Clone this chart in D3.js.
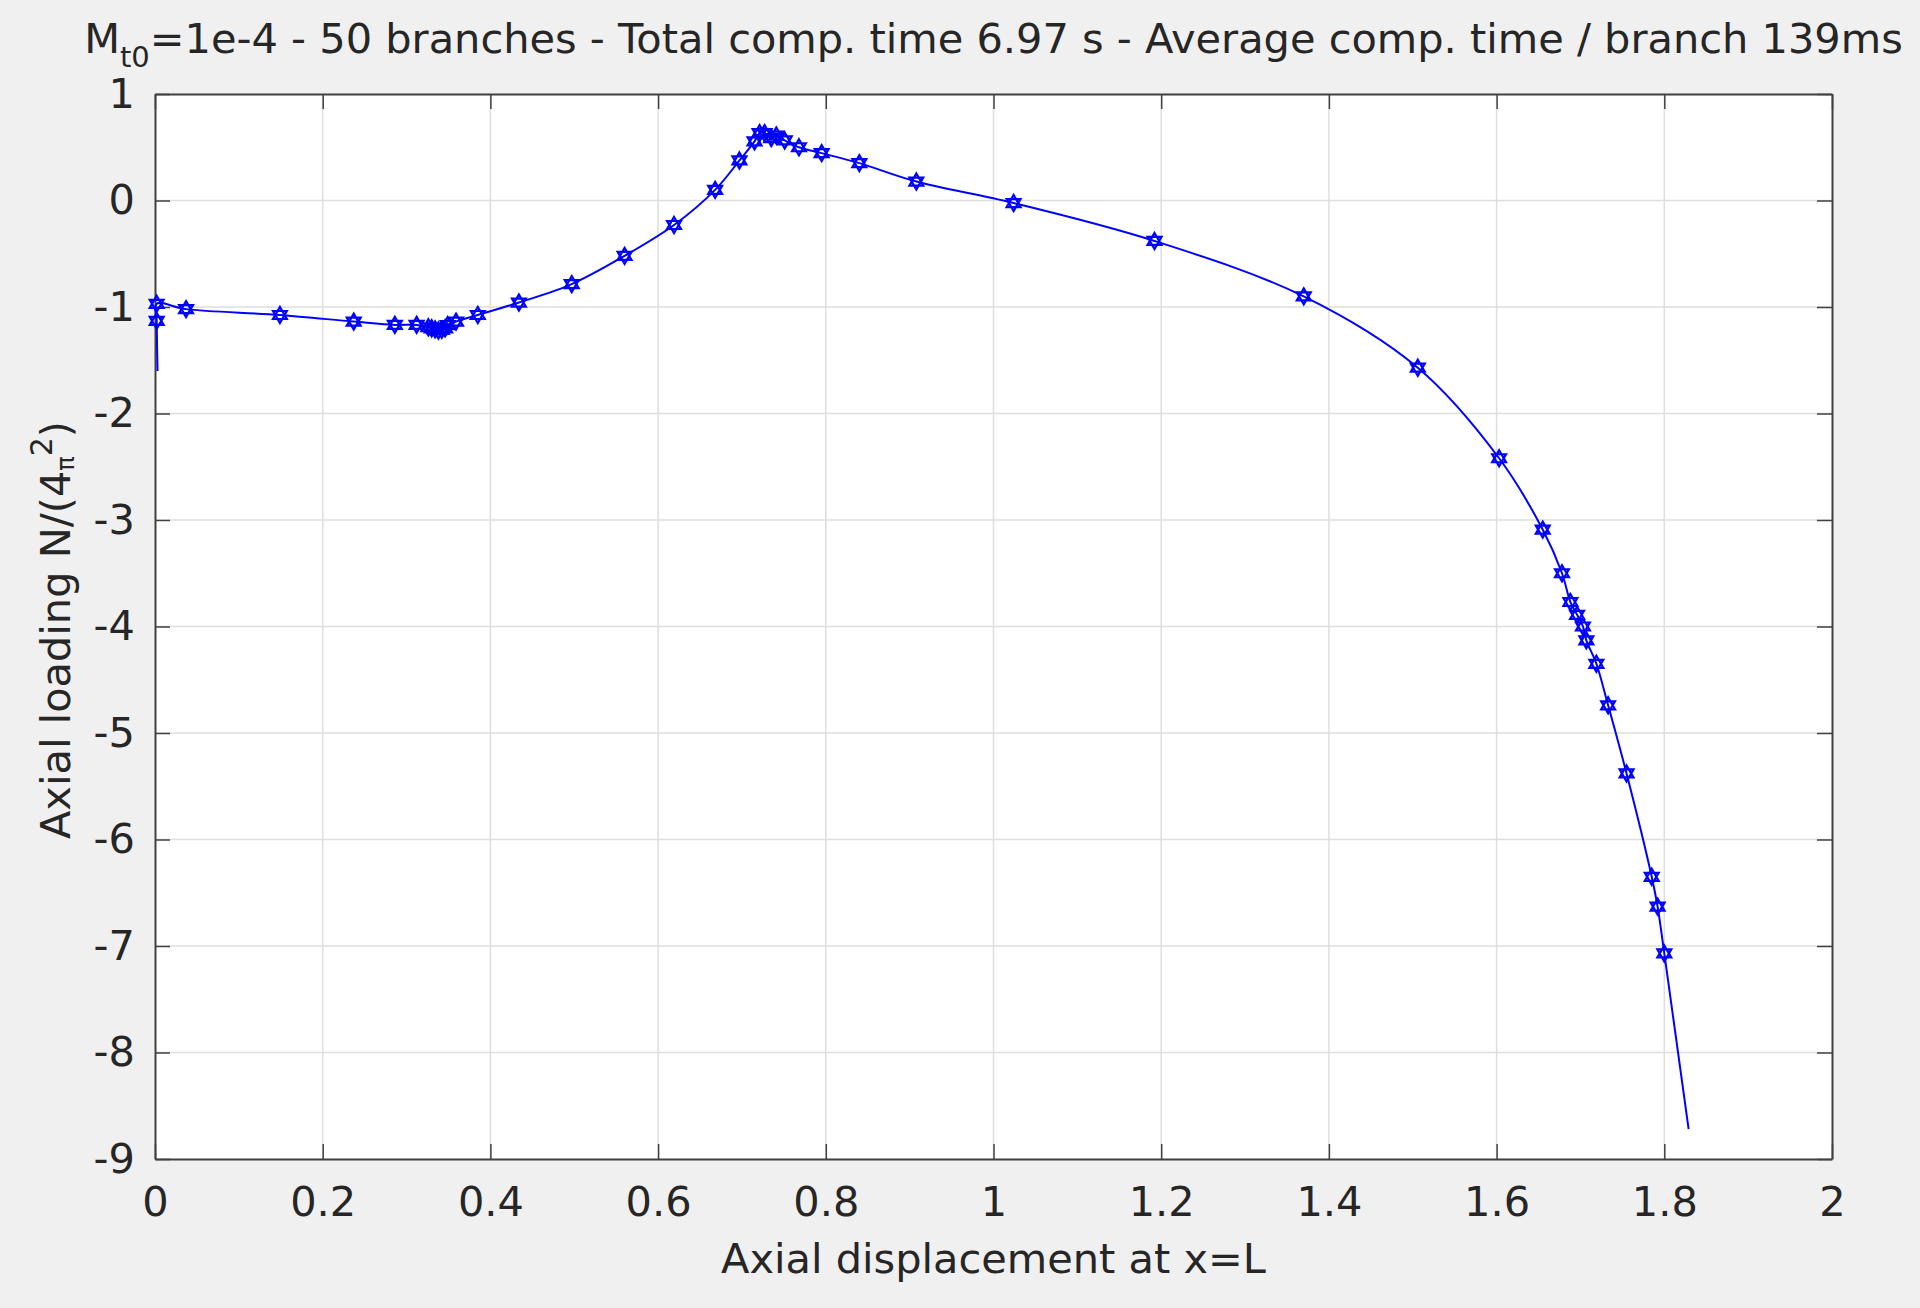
<!DOCTYPE html>
<html>
<head>
<meta charset="utf-8">
<script src="https://cdn.jsdelivr.net/npm/d3@7"></script>
<style>
  html, body { margin: 0; padding: 0; background: #f0f0f0; }
  svg { display: block; }
  text { font-family: "DejaVu Sans", sans-serif; fill: #262626; }
</style>
</head>
<body>
<script>
// ---- data ----
const xTicks = [0, 0.2, 0.4, 0.6, 0.8, 1, 1.2, 1.4, 1.6, 1.8, 2];
const yTicks = [1, 0, -1, -2, -3, -4, -5, -6, -7, -8, -9];
const xTickLabels = ["0", "0.2", "0.4", "0.6", "0.8", "1", "1.2", "1.4", "1.6", "1.8", "2"];
const yTickLabels = ["1", "0", "-1", "-2", "-3", "-4", "-5", "-6", "-7", "-8", "-9"];

// branch points (markers), in path order
const markerX = [0.002, 0.002, 0.037, 0.149, 0.237, 0.286, 0.312,
  0.326, 0.330, 0.334, 0.338, 0.342, 0.346, 0.349, 0.359, 0.385,
  0.434, 0.497, 0.560, 0.619, 0.668, 0.697,
  0.715, 0.721, 0.727, 0.735, 0.741, 0.751,
  0.768, 0.795, 0.840, 0.908,
  1.024, 1.192, 1.370,
  1.506, 1.603, 1.655, 1.678, 1.688, 1.696, 1.703, 1.707, 1.719, 1.733, 1.755, 1.785, 1.792, 1.800];
const markerY = [-1.13, -0.97, -1.02, -1.075, -1.137, -1.168, -1.168,
  -1.19, -1.20, -1.21, -1.22, -1.215, -1.20, -1.17, -1.137, -1.075,
  -0.958, -0.785, -0.52, -0.23, 0.10, 0.376,
  0.555, 0.633, 0.633, 0.586, 0.61, 0.564,
  0.50, 0.445, 0.351, 0.178,
  -0.024, -0.38, -0.90,
  -1.57, -2.42, -3.09, -3.50, -3.77, -3.89, -4.00, -4.13, -4.35, -4.74, -5.38, -6.35, -6.63, -7.07];
// continuation curve endpoints (no marker)
const startX = [0.003], startY = [-1.60];
const endX = [1.829], endY = [-8.72];

// ---- layout ----
const W = 1920, H = 1308;
const L = 155, R = 1832, T = 94, B = 1159;
const FS = 41.5;

const svg = d3.select("body").append("svg").attr("width", W).attr("height", H);
svg.append("rect").attr("width", W).attr("height", H).attr("fill", "#f0f0f0");

const x = d3.scaleLinear().domain([0, 2]).range([L, R]);
const y = d3.scaleLinear().domain([-9, 1]).range([B, T]);

svg.append("rect").attr("x", L).attr("y", T).attr("width", R - L).attr("height", B - T).attr("fill", "#fff");

// grid
const g = svg.append("g");
g.selectAll(".gx").data(xTicks.slice(1, -1)).join("line")
  .attr("x1", d => x(d)).attr("x2", d => x(d)).attr("y1", T).attr("y2", B)
  .attr("stroke", "#dedede").attr("stroke-width", 1.5);
g.selectAll(".gy").data(yTicks.slice(1, -1)).join("line")
  .attr("y1", d => y(d)).attr("y2", d => y(d)).attr("x1", L).attr("x2", R)
  .attr("stroke", "#dedede").attr("stroke-width", 1.5);

// axes (ticks inward, box)
const tickLen = 15;
const axB = d3.axisBottom(x).tickValues(xTicks).tickFormat((d, i) => xTickLabels[i]).tickSizeInner(-tickLen).tickSizeOuter(0).tickPadding(28);
const axT = d3.axisTop(x).tickValues(xTicks).tickFormat("").tickSizeInner(-tickLen).tickSizeOuter(0);
const axL = d3.axisLeft(y).tickValues(yTicks).tickFormat((d, i) => yTickLabels[i]).tickSizeInner(-tickLen).tickSizeOuter(0).tickPadding(20);
const axR = d3.axisRight(y).tickValues(yTicks).tickFormat("").tickSizeInner(-tickLen).tickSizeOuter(0);

function style(sel) {
  sel.selectAll("path").attr("stroke", "#404040").attr("stroke-width", 2);
  sel.selectAll("line").attr("stroke", "#404040").attr("stroke-width", 1.5);
  sel.selectAll("text").attr("font-family", "DejaVu Sans").attr("font-size", FS).attr("fill", "#262626");
}
svg.append("g").attr("transform", `translate(0,${B})`).call(axB).call(style);
svg.append("g").attr("transform", `translate(0,${T})`).call(axT).call(style);
svg.append("g").attr("transform", `translate(${L},0)`).call(axL).call(style);
svg.append("g").attr("transform", `translate(${R},0)`).call(axR).call(style);

// curve
const lineXs = startX.concat(markerX, endX);
const lineYs = startY.concat(markerY, endY);
const pts = lineXs.map((v, i) => [v, lineYs[i]]);
const line = d3.line().x(d => x(d[0])).y(d => y(d[1])).curve(d3.curveCatmullRom.alpha(0.5));
svg.append("path").datum(pts).attr("d", line)
  .attr("fill", "none").attr("stroke", "#0000ff").attr("stroke-width", 2);

// hexagram marker
const hexagram = {
  draw(ctx, size) {
    const r = Math.sqrt(size) / 2;
    for (let k = 0; k < 2; k++) {
      for (let j = 0; j < 3; j++) {
        const a = (k * 60 + j * 120 - 90) * Math.PI / 180;
        const px = r * Math.cos(a), py = r * Math.sin(a);
        if (j === 0) ctx.moveTo(px, py); else ctx.lineTo(px, py);
      }
      ctx.closePath();
    }
  }
};
const sym = d3.symbol().type(hexagram).size(256);
svg.append("g").selectAll("path").data(markerX.map((v, i) => [v, markerY[i]])).join("path")
  .attr("transform", d => `translate(${x(d[0])},${y(d[1])})`)
  .attr("d", sym).attr("fill", "none").attr("stroke", "#0000ff").attr("stroke-width", 2.2);

// title
const title = svg.append("text").attr("x", (L + R) / 2).attr("y", 53).attr("text-anchor", "middle")
  .attr("font-size", FS);
title.append("tspan").text("M");
title.append("tspan").attr("font-size", 29).attr("dy", 14).text("t0");
title.append("tspan").attr("dy", -14).text("=1e-4 - 50 branches - Total comp. time 6.97 s - Average comp. time / branch 139ms");

// x label
svg.append("text").attr("x", (L + R) / 2).attr("y", 1273).attr("text-anchor", "middle")
  .attr("font-size", FS).text("Axial displacement at x=L");

// y label
const yl = svg.append("text").attr("transform", `translate(70,630) rotate(-90)`).attr("text-anchor", "middle")
  .attr("font-size", FS);
yl.append("tspan").text("Axial loading N/(4");
yl.append("tspan").attr("font-size", 24).attr("dy", 4).text("π");
yl.append("tspan").attr("font-size", 30).attr("dy", -22).text("2");
yl.append("tspan").attr("dy", 18).text(")");
</script>
</body>
</html>
